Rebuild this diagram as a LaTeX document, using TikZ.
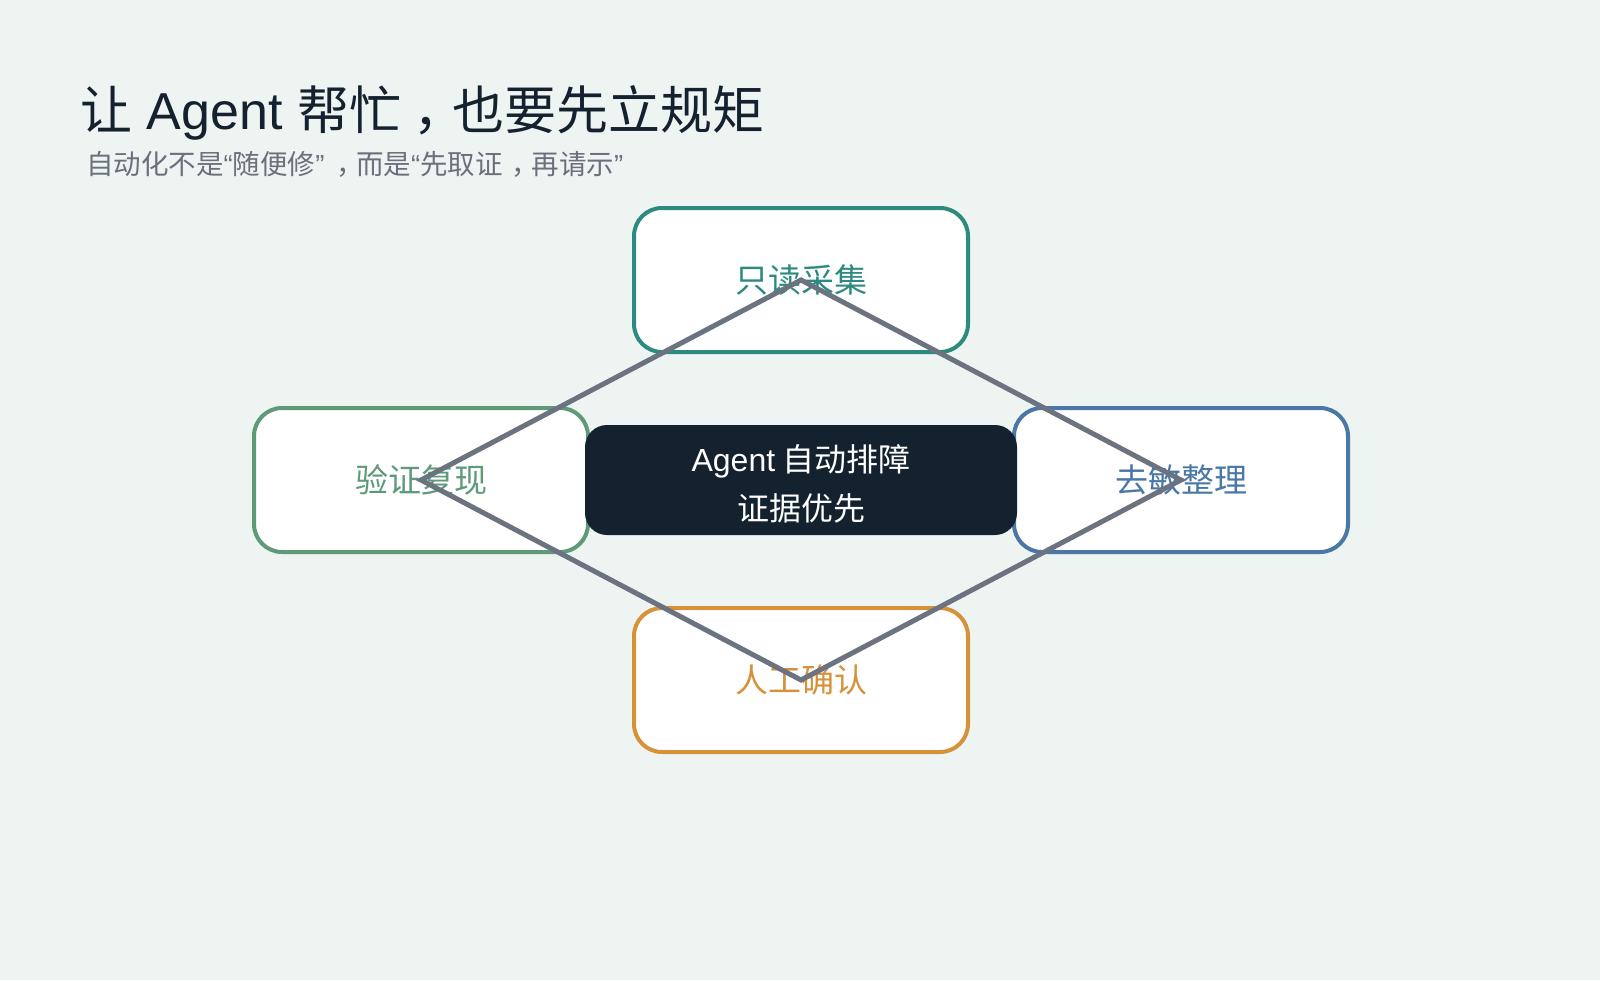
\documentclass[tikz,border=0pt]{standalone}
\usepackage{fontspec}
\setmainfont{Noto Sans CJK SC}
\newfontfamily\latfont{Liberation Sans}
\newcommand{\myLq}{{\latfont “}}
\newcommand{\myRq}{{\latfont ”}}
\definecolor{bg}{HTML}{EEF4F1}
\definecolor{ink}{HTML}{14222F}
\definecolor{subgray}{HTML}{68717C}
\definecolor{cteal}{HTML}{2C8A7F}
\definecolor{cgreen}{HTML}{5E9A78}
\definecolor{cblue}{HTML}{4A77A6}
\definecolor{corange}{HTML}{D6923A}
\definecolor{linegray}{HTML}{6A737F}
\tikzset{
  stagebox/.style={draw=#1, text=#1, fill=white, line width=4pt, rounded corners=28pt,
    minimum width=334pt, minimum height=144pt, inner sep=0pt,
    font=\fontsize{33}{38}\selectfont},
  corebox/.style={fill=ink, rounded corners=22pt, minimum width=432pt,
    minimum height=110pt, inner sep=0pt},
  coretext/.style={text=white, inner sep=0pt, align=center,
    font=\fontsize{32}{49}\selectfont},
  flow/.style={draw=linegray, line width=5pt, line join=miter}
}
\begin{document}
\begin{tikzpicture}[x=1pt,y=-1pt]
\fill[bg] (0,0) rectangle (1600,980);
\useasboundingbox (0,0) rectangle (1600,980);
\node[anchor=base west, inner sep=0pt, text=ink, font=\fontsize{52}{60}\selectfont] (title) at (80,129)
  {让\hspace{0.06em} {\latfont Agent}\hspace{0.06em} 帮忙\hspace{0.22em}，\hspace{-0.24em}也要先立规矩};
\node[anchor=base west, inner sep=0pt, text=subgray, font=\fontsize{27.5}{32}\selectfont] (subtitle) at (86,174)
  {自动化不是\myLq 随便修\myRq\hspace{0.42em}，\hspace{-0.27em}而是\myLq 先取证\hspace{0.3em}，\hspace{-0.25em}再请示\myRq};
\node[stagebox=cteal] (top) at (801,280) {只读采集};
\node[stagebox=cgreen] (left) at (421,480) {验证复现};
\node[stagebox=cblue] (right) at (1181,480) {去敏整理};
\node[stagebox=corange] (bottom) at (801,680) {人工确认};
\node[corebox] (core) at (801,480) {};
\node[coretext] (coretxt) at (801,484) {{\latfont Agent} 自动排障\\证据优先};
\draw[flow] (top.center) -- (right.center) -- (bottom.center) -- (left.center) -- cycle;
\end{tikzpicture}
\end{document}
